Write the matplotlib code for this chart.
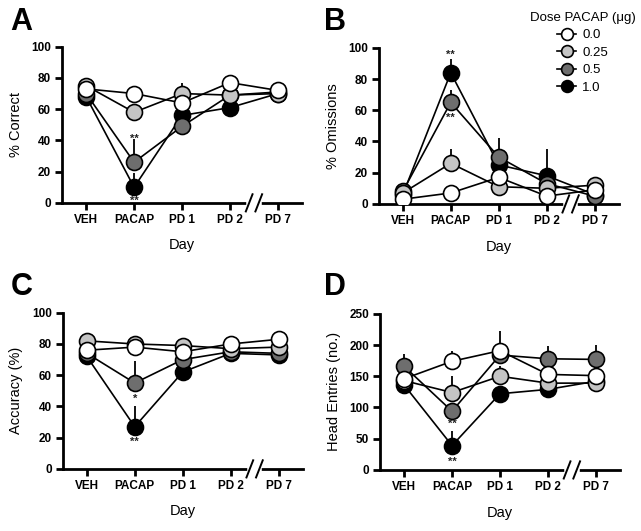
import matplotlib
matplotlib.use('Agg')
import matplotlib.pyplot as plt
from matplotlib.lines import Line2D

plt.rcParams['font.family'] = ['Liberation Sans', 'DejaVu Sans']

# --- data ---
days = ['VEH', 'PACAP', 'PD 1', 'PD 2', 'PD 7']
doses = ['0.0', '0.25', '0.5', '1.0']
dose_colors = ['white', '#c4c4c4', '#6e6e6e', 'black']

# % correct
correct = {
    '0.0':  [73, 70, 64, 77, 72],
    '0.25': [75, 58, 70, 69, 70],
    '0.5':  [70, 26, 49, 69, 71],
    '1.0':  [68, 10, 56, 61, 70],
}
correct_err = {
    '0.0':  [2, 2, 3, 2, 2],
    '0.25': [2, 3, 7, 3, 6],
    '0.5':  [3, 15, 4, 3, 2],
    '1.0':  [2, 9, 3, 2, 2],
}

# % omissions
omissions = {
    '0.0':  [3, 7, 17, 5, 9],
    '0.25': [7, 26, 11, 10, 12],
    '0.5':  [8, 65, 30, 13, 5],
    '1.0':  [6, 84, 25, 18, 6],
}
omissions_err = {
    '0.0':  [1, 2, 3, 1, 2],
    '0.25': [2, 9, 3, 3, 2],
    '0.5':  [2, 8, 12, 4, 1],
    '1.0':  [2, 9, 5, 17, 2],
}

# accuracy
accuracy = {
    '0.0':  [76, 78, 75, 80, 83],
    '0.25': [82, 80, 79, 77, 78],
    '0.5':  [74, 55, 70, 75, 74],
    '1.0':  [72, 27, 62, 74, 73],
}
accuracy_err = {
    '0.0':  [2, 2, 2, 2, 2],
    '0.25': [2, 2, 2, 2, 2],
    '0.5':  [2, 14, 3, 2, 2],
    '1.0':  [2, 13, 3, 2, 2],
}

# head entries
entries = {
    '0.0':  [146, 174, 191, 153, 151],
    '0.25': [143, 124, 150, 139, 139],
    '0.5':  [166, 94, 184, 178, 177],
    '1.0':  [136, 39, 122, 129, 142],
}
entries_err = {
    '0.0':  [8, 17, 31, 8, 8],
    '0.25': [8, 27, 16, 8, 6],
    '0.5':  [20, 10, 10, 21, 23],
    '1.0':  [6, 24, 8, 6, 5],
}

# significance marks: (x index, y value, text)
stars_a = [(1, 41, '**'), (1, 1.5, '**')]
stars_b = [(1, 95.5, '**'), (1, 55, '**')]
stars_c = [(1, 45, '*'), (1, 17, '**')]
stars_d = [(1, 74, '**'), (1, 13, '**')]

panels = [
    ('A', correct, correct_err, '% Correct', 100, 20, stars_a,
     [0.097, 0.618, 0.374, 0.294], (0.016, 0.987)),
    ('B', omissions, omissions_err, '% Omissions', 100, 20, stars_b,
     [0.591, 0.616, 0.374, 0.294], (0.505, 0.987)),
    ('C', accuracy, accuracy_err, 'Accuracy (%)', 100, 20, stars_c,
     [0.098, 0.117, 0.374, 0.294], (0.016, 0.487)),
    ('D', entries, entries_err, 'Head Entries (no.)', 250, 50, stars_d,
     [0.593, 0.115, 0.374, 0.294], (0.505, 0.487)),
]

fig = plt.figure(figsize=(6.41, 5.31), dpi=100)
x = list(range(len(days)))

for letter, vals, errs, ylabel, ymax, ystep, stars, rect, lpos in panels:
    ax = fig.add_axes(rect)
    # draw black first so white ends up on top
    for d, c in reversed(list(zip(doses, dose_colors))):
        ax.errorbar(x, vals[d], yerr=[[0] * 5, errs[d]], fmt='none',
                    ecolor='black', elinewidth=1.3, capsize=0, zorder=2)
        ax.plot(x, vals[d], color='black', lw=1.2, marker='o', ms=11.5,
                mfc=c, mec='black', mew=1.2, zorder=3)
    for xi, yv, s in stars:
        ax.text(xi, yv, s, ha='center', va='center', fontsize=8,
                fontweight='bold', color='#222222', zorder=4)

    ax.set_xlim(-0.5, 4.5)
    ax.set_ylim(0, ymax)
    ax.set_yticks(range(0, ymax + 1, ystep))
    ax.set_xticks(x)
    ax.set_xticklabels(days)
    for sp in ['top', 'right']:
        ax.spines[sp].set_visible(False)
    for sp in ['left', 'bottom']:
        ax.spines[sp].set_linewidth(2)
    ax.tick_params(width=2, length=5, labelsize=8.5, pad=3)
    for lab in ax.get_xticklabels() + ax.get_yticklabels():
        lab.set_fontweight('bold')
    ax.set_ylabel(ylabel, fontsize=10.5, labelpad=6)
    ax.set_xlabel('Day', fontsize=10.5, labelpad=9)

    # axis break between PD 2 and PD 7
    ax.plot([3.40, 3.60], [0, 0], color='white', lw=4, clip_on=False,
            transform=ax.get_xaxis_transform(), zorder=5)
    for bx in [3.40, 3.60]:
        ax.plot([bx - 0.07, bx + 0.07], [-0.055, 0.055], color='black', lw=1.4,
                clip_on=False, transform=ax.get_xaxis_transform(), zorder=6)

    fig.text(lpos[0], lpos[1], letter, fontsize=22, fontweight='bold',
             ha='left', va='top')

# legend in upper right of panel B
handles = [Line2D([], [], color='black', lw=1.2, marker='o', ms=8.5,
                  mfc=c, mec='black', mew=1.2) for c in dose_colors]
fig.legend(handles, doses, title='Dose PACAP (μg)', loc='upper right',
           bbox_to_anchor=(1.008, 0.998), frameon=False, fontsize=9.5,
           title_fontsize=9.5, handlelength=1.4, handletextpad=0.5,
           labelspacing=0.4, borderpad=0.3)

fig.savefig('out.png', dpi=100)
